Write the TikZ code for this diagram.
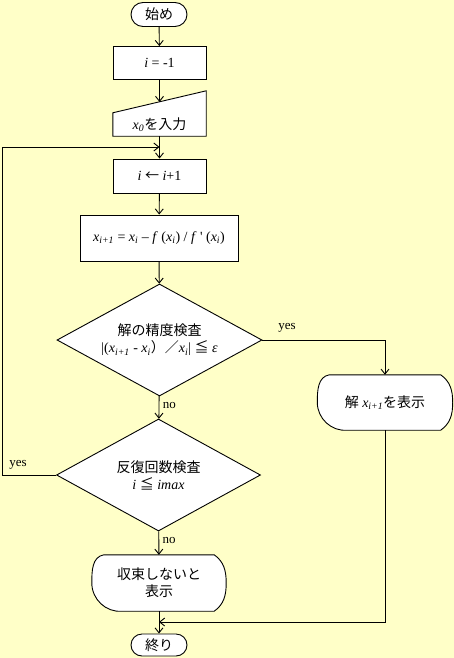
\documentclass[tikz,border=0pt]{standalone}
\usepackage{fontspec}
\setmainfont{Liberation Serif}
\newfontfamily\jp{Noto Sans CJK JP}
\usetikzlibrary{arrows.meta,shapes.geometric,shapes.misc}

\definecolor{paleyellow}{HTML}{FFFFC8}
\newcommand{\sub}[1]{\textsubscript{\textit{#1}}}
\pgfdeclarelayer{back}
\pgfsetlayers{back,main}
% outline of a display symbol drawn behind node #1
\newcommand{\dispoutline}[1]{%
  \begin{pgfonlayer}{back}
    \draw[fill=white,line width=0.9pt] ([xshift=12pt]#1.north west) -- ([xshift=-12pt]#1.north east)
      to[out=-35,in=90] (#1.east) to[out=-90,in=35] ([xshift=-12pt]#1.south east)
      -- ([xshift=30pt]#1.south west) to[out=185,in=-90] (#1.west)
      to[out=90,in=190] ([xshift=12pt]#1.north west) -- cycle;
  \end{pgfonlayer}}

\tikzset{
  flow/.style={line width=0.9pt,-{Straight Barb[length=5pt,width=8pt]}},
  txt/.style={font=\fontsize{14}{17}\selectfont},
  procbox/.style={txt,draw,fill=white,line width=0.9pt,minimum width=93pt,minimum height=33pt,inner sep=0pt},
  terminal/.style={txt,rounded rectangle,draw,fill=white,line width=0.9pt,minimum width=56pt,minimum height=24pt,inner sep=0pt},
  decision/.style={txt,diamond,draw,fill=white,line width=0.9pt,aspect=1.8,inner sep=0pt,
    minimum width=205pt,minimum height=112pt,align=center},
  dispbox/.style={txt,minimum width=134pt,minimum height=56pt,inner sep=0pt,align=center},
  lbl/.style={font=\fontsize{13}{15}\selectfont}
}

\begin{document}
\begin{tikzpicture}[x=1pt,y=1pt]
  \useasboundingbox (0,0) rectangle (454,-658);
  \begin{pgfonlayer}{back}
    \fill[paleyellow] (0,0) rectangle (454,-658);
  \end{pgfonlayer}
  % main column
  \node[terminal] (start) at (159,-14.5) {\jp 始め};
  \node[procbox] (init) at (159.5,-63) {\textit{i} = -1};
  \node[minimum width=93pt,minimum height=45pt,inner sep=0pt] (input) at (159.5,-113.5) {};
  \begin{pgfonlayer}{back}
    \draw[fill=white,line width=0.9pt] (input.south west) -- (input.south east)
      -- (input.north east) -- ([yshift=-22pt]input.north west) -- cycle;
  \end{pgfonlayer}
  \node[txt] (inputtext) at (159.5,-125) {\textit{x}\sub{0}{\jp を入力}};
  \coordinate (inputtop) at (159.5,-102);
  \node[procbox,minimum height=34pt] (update) at (159.5,-176) {\textit{i} {\jp ←} \textit{i}+1};
  \node[procbox,minimum width=158pt,minimum height=46pt] (newton) at (159,-238)
    {\textit{x}\sub{i+1} = \textit{x}\sub{i} – \textit{f} (\textit{x}\sub{i}) / \textit{f} \textquotesingle{} (\textit{x}\sub{i})};
  \node[decision] (check) at (159.5,-340)
    {{\jp 解の精度検査}\\|(\textit{x}\sub{i+1} - \textit{x}\sub{i}{\jp ）／}\textit{x}\sub{i}| {\jp ≦} \textit{ε}};
  \node[decision,minimum width=204pt] (iter) at (158.5,-475)
    {{\jp 反復回数検査}\\\textit{i} {\jp ≦} \textit{imax}};
  \node[dispbox] (giveup) at (159,-583) {\jp 収束しないと\\\jp 表示};
  \dispoutline{giveup}
  \node[terminal,minimum height=22pt] (stop) at (159,-645) {\jp 終り};
  % right branch
  \node[dispbox,minimum width=135pt,minimum height=55pt] (show) at (385,-402.5)
    {{\jp 解}\ \textit{x}\sub{i+1}{\jp を表示}};
  \dispoutline{show}
  % connectors
  \draw[flow] (start) -- (init);
  \draw[flow] (init) -- (inputtop);
  \draw[flow] (input) -- (update);
  \draw[flow] (update) -- (newton);
  \draw[flow] (newton) -- (check);
  \draw[flow] (check) -- (iter) node[lbl,right,pos=0.4] (no1) {no};
  \draw[flow] (iter) -- (giveup) node[lbl,right,pos=0.4] (no2) {no};
  \draw[flow] (giveup) -- (stop);
  \coordinate (loopjoin) at (159.5,-147);
  \draw[flow] (iter.west) -- ++(-54,0) |- (loopjoin);
  \node[lbl] (yes2) at (18,-465) {yes};
  \draw[flow] (check.east) -| (show.north);
  \node[lbl] (yes1) at (287,-328) {yes};
  \coordinate (mergein) at (159,-622);
  \draw[flow] (show.south) |- (mergein);
\end{tikzpicture}
\end{document}
